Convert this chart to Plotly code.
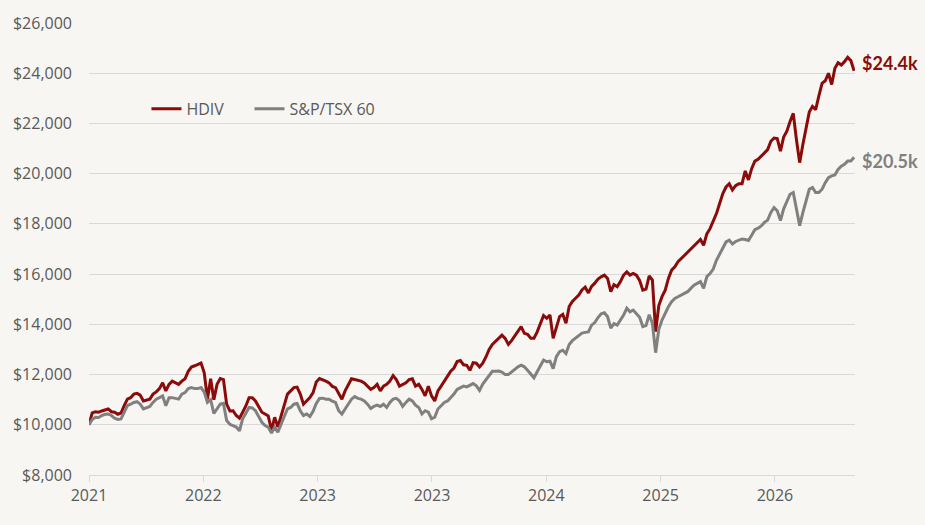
import pandas as pd
import plotly.graph_objects as go

# ---- data (weekly values, growth of $10,000) ----
start_date = "2021-12-01"

hdiv = [
    10000, 10470, 10520, 10500, 10550, 10600, 10630, 10520, 10500, 10420,
    10470, 10760, 11020, 11080, 11220, 11250, 11180, 10950, 10990, 11020,
    11220, 11310, 11440, 11670, 11350, 11610, 11740, 11670, 11610, 11740,
    11830, 12130, 12300, 12350, 12390, 12460, 12070, 11020, 11830, 11000,
    11610, 11840, 11800, 10820, 10550, 10560, 10370, 10260, 10500, 10750,
    11080, 11080, 10950, 10750, 10500, 10430, 10350, 9780, 10300, 9910,
    10400, 10780, 11220, 11350, 11480, 11500, 11220, 10820, 10950, 11080,
    11280, 11700, 11840, 11800, 11740, 11670, 11530, 11480, 11250, 11020,
    11350, 11610, 11830, 11800, 11780, 11740, 11670, 11540, 11410, 11480,
    11610, 11350, 11540, 11610, 11740, 11960, 11800, 11540, 11610, 11670,
    11800, 11830, 11540, 11610, 11410, 11150, 11540, 11150, 10950, 11350,
    11540, 11740, 11930, 12130, 12260, 12520, 12560, 12390, 12370, 12170,
    12470, 12450, 12300, 12450, 12700, 13000, 13200, 13320, 13450, 13570,
    13440, 13200, 13350, 13550, 13710, 13910, 13640, 13600, 13450, 13450,
    13700, 14050, 14350, 14240, 14370, 13440, 13910, 14310, 14400, 14040,
    14710, 14910, 15040, 15170, 15370, 15480, 15250, 15510, 15640, 15800,
    15890, 15960, 15830, 15300, 15580, 15500, 15700, 15960, 16090, 15960,
    16030, 15960, 15750, 15360, 15400, 15930, 15760, 13710, 14750, 15100,
    15360, 15830, 16160, 16290, 16490, 16620, 16750, 16890, 17020, 17110,
    17280, 17380, 17150, 17600, 17810, 18080, 18410, 18810, 19210, 19470,
    19600, 19350, 19520, 19600, 19600, 20110, 19750, 20200, 20500, 20570,
    20700, 20830, 20960, 21290, 21420, 21400, 20900, 21460, 21690, 22080,
    22400, 21350, 20440, 21160, 21850, 22450, 22680, 22550, 23100, 23600,
    23700, 24000, 23550, 24200, 24420, 24330, 24460, 24630, 24500, 24100,
]

tsx60 = [
    10000, 10210, 10300, 10290, 10370, 10420, 10430, 10370, 10260, 10210,
    10230, 10500, 10760, 10820, 10890, 10920, 10820, 10630, 10690, 10730,
    10890, 11020, 11080, 11150, 10760, 11080, 11080, 11050, 11020, 11220,
    11280, 11440, 11480, 11440, 11440, 11480, 11300, 10890, 11000, 10450,
    10630, 10820, 10850, 10170, 10020, 9970, 9910, 9760, 10240, 10460,
    10690, 10670, 10560, 10330, 10100, 9970, 9900, 9670, 9900, 9710,
    10050, 10330, 10630, 10690, 10820, 10850, 10560, 10370, 10430, 10330,
    10540, 10850, 11050, 11060, 11020, 11020, 10940, 10890, 10560, 10430,
    10630, 10820, 11020, 11120, 11050, 11020, 10950, 10820, 10650, 10730,
    10780, 10730, 10820, 10690, 10890, 11020, 11050, 10950, 10730, 10890,
    11020, 10950, 10780, 10690, 10430, 10560, 10500, 10240, 10300, 10630,
    10760, 10890, 10950, 11080, 11220, 11410, 11480, 11540, 11510, 11570,
    11640, 11550, 11370, 11620, 11800, 11980, 12130, 12130, 12140, 12100,
    12000, 12000, 12100, 12220, 12310, 12370, 12310, 12170, 12040, 11870,
    12110, 12350, 12580, 12510, 12530, 12240, 12710, 12910, 12970, 12840,
    13200, 13350, 13450, 13530, 13650, 13680, 13700, 13970, 14070, 14270,
    14420, 14460, 14300, 13850, 14030, 13970, 14170, 14370, 14640, 14500,
    14570, 14440, 14280, 13910, 13950, 14380, 14040, 12870, 13800, 14170,
    14440, 14700, 14900, 15030, 15100, 15170, 15230, 15300, 15430, 15560,
    15630, 15700, 15430, 15900, 16020, 16200, 16550, 16800, 17000, 17280,
    17350, 17200, 17300, 17350, 17400, 17380, 17340, 17550, 17770, 17830,
    17920, 18060, 18150, 18460, 18650, 18520, 18130, 18600, 18920, 19180,
    19250, 18590, 17930, 18450, 18900, 19380, 19450, 19250, 19250, 19380,
    19640, 19840, 19910, 19950, 20170, 20300, 20370, 20500, 20500, 20650,
]

series_names = ["HDIV", "S&P/TSX 60"]
series_colors = ["#8B0A0A", "#808080"]
end_labels = ["$24.4k", "$20.5k"]
end_label_values = [24400, 20500]

tick_labels = ["2021", "2022", "2023", "2023", "2024", "2025", "2026"]
tick_step_days = 250
axis_end_date = "2026-07-03"

# ---- build ----
dates = pd.date_range(start_date, periods=len(hdiv), freq="7D")
tick_dates = pd.date_range(start_date, periods=len(tick_labels), freq=f"{tick_step_days}D")

BG = "#F7F6F2"
GRID = "#D9D9D9"
TXT = "#595959"
FONT = "Open Sans, Lato, sans-serif"

legend_ids = ["legend", "legend2"]
legend_x = [0.075, 0.2095]

fig = go.Figure()
for name, vals, col, lg in zip(series_names, [hdiv, tsx60], series_colors, legend_ids):
    fig.add_trace(go.Scatter(
        x=dates, y=vals, name=name, mode="lines",
        line=dict(color=col, width=3), legend=lg,
    ))

for txt, v, col in zip(end_labels, end_label_values, series_colors):
    fig.add_annotation(
        x=dates[-1], y=v, text=f"<b>{txt}</b>", showarrow=False,
        xanchor="left", yanchor="middle", xshift=6,
        font=dict(family="Lato, Open Sans, sans-serif", size=18, color=col),
    )

legend_style = dict(
    orientation="h", y=0.81, xanchor="left", yanchor="middle",
    bgcolor="rgba(0,0,0,0)", font=dict(family=FONT, size=16, color=TXT),
    itemwidth=30,
)

fig.update_layout(
    width=925, height=525,
    paper_bgcolor=BG, plot_bgcolor=BG,
    margin=dict(l=89, r=70, t=19, b=50),
    font=dict(family=FONT, color=TXT, size=16),
    legend=dict(x=legend_x[0], **legend_style),
    legend2=dict(x=legend_x[1], **legend_style),
    showlegend=True,
)
fig.update_yaxes(
    range=[8000, 26000], dtick=2000, tickformat="$,.0f",
    showgrid=True, gridcolor=GRID, gridwidth=1, zeroline=False,
    showline=False, ticks="", ticklabelstandoff=16,
    tickfont=dict(family=FONT, size=16, color=TXT),
)
fig.update_xaxes(
    type="date", range=[dates[0], pd.Timestamp(axis_end_date)],
    tickmode="array", tickvals=tick_dates, ticktext=tick_labels,
    showgrid=False, zeroline=False, showline=True, linecolor=GRID, linewidth=1,
    ticks="outside", ticklen=6, tickcolor=GRID,
    tickfont=dict(family=FONT, size=16, color=TXT),
)

fig.write_html(
    "out.html",
    config={"displayModeBar": False},
    post_script=(
        "document.body.style.margin='0';"
        "document.body.style.background='" + BG + "';"
        "document.documentElement.style.overflow='hidden';"
    ),
)
